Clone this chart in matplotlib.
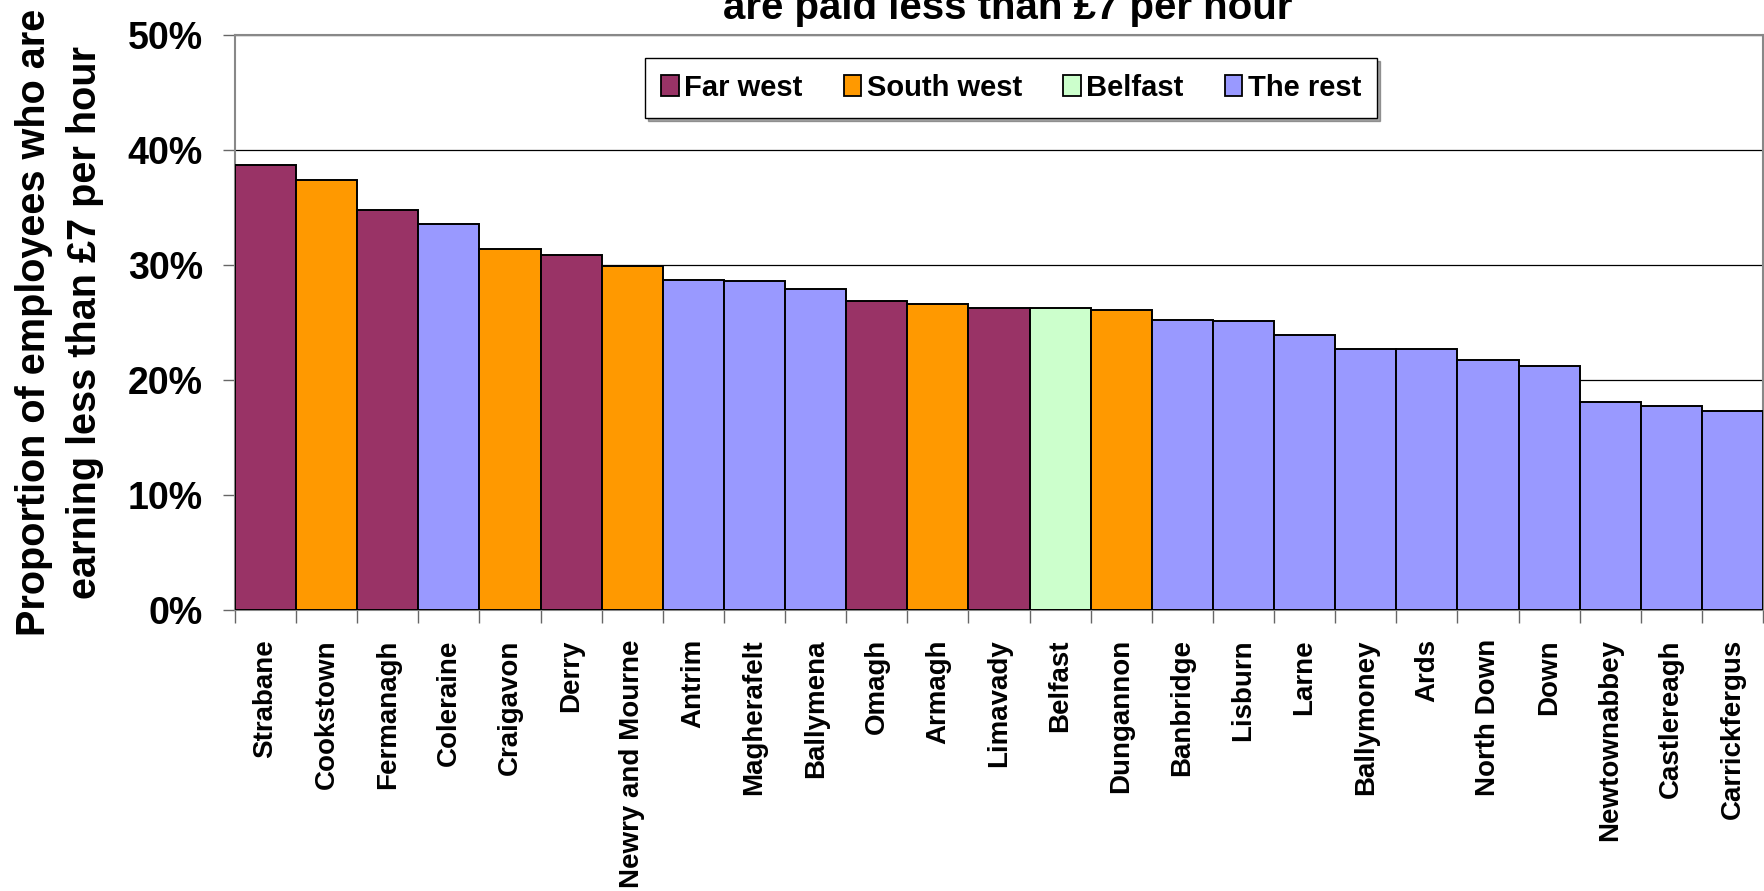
import matplotlib.pyplot as plt
from matplotlib.patches import Patch
from matplotlib.ticker import PercentFormatter

plt.rcParams['font.family'] = ['Liberation Sans', 'DejaVu Sans']
plt.rcParams['font.weight'] = 'bold'

areas = ["Strabane", "Cookstown", "Fermanagh", "Coleraine", "Craigavon", "Derry",
         "Newry and Mourne", "Antrim", "Magherafelt", "Ballymena", "Omagh", "Armagh",
         "Limavady", "Belfast", "Dungannon", "Banbridge", "Lisburn", "Larne",
         "Ballymoney", "Ards", "North Down", "Down", "Newtownabbey", "Castlereagh",
         "Carrickfergus"]
share = [38.7, 37.4, 34.8, 33.6, 31.4, 30.9, 29.9, 28.7, 28.6, 27.9, 26.9, 26.6,
         26.3, 26.3, 26.1, 25.2, 25.1, 23.9, 22.7, 22.7, 21.7, 21.2, 18.1, 17.7, 17.3]
region = ["Far west", "South west", "Far west", "The rest", "South west", "Far west",
          "South west", "The rest", "The rest", "The rest", "Far west", "South west",
          "Far west", "Belfast", "South west", "The rest", "The rest", "The rest",
          "The rest", "The rest", "The rest", "The rest", "The rest", "The rest",
          "The rest"]
groups = ["Far west", "South west", "Belfast", "The rest"]
colours = {"Far west": "#993366", "South west": "#FF9900",
           "Belfast": "#CCFFCC", "The rest": "#9999FF"}

fig = plt.figure(figsize=(17.65, 8.91), dpi=100)
ax = fig.add_axes([235 / 1765, 1 - 610 / 891, 1528 / 1765, 575 / 891])

x = list(range(len(areas)))
ax.bar(x, share, width=1.0, color=[colours[r] for r in region],
       edgecolor='black', linewidth=1.4, zorder=3)

ax.set_xlim(-0.5, len(areas) - 0.5)
ax.set_ylim(0, 50)
ax.set_yticks([0, 10, 20, 30, 40, 50])
ax.yaxis.set_major_formatter(PercentFormatter(decimals=0))
ax.tick_params(axis='y', labelsize=27, length=9, width=1, color='#666666', pad=14)
ax.set_xticks(x)
ax.set_xticklabels(areas, rotation=90, va='top', ha='center')
ax.tick_params(axis='x', which='major', labelsize=20, length=0, pad=21)
ax.set_xticks([i - 0.5 for i in range(len(areas) + 1)], minor=True)
ax.tick_params(axis='x', which='minor', length=9, width=1, color='#666666')

ax.grid(axis='y', color='black', linewidth=0.9, zorder=0)
for s in ax.spines.values():
    s.set_color('#888888')
    s.set_linewidth(1.5)

ax.set_ylabel("Proportion of employees who are\nearning less than £7 per hour",
              fontsize=28.5, fontweight='bold', labelpad=17, linespacing=1.43)

handles = [Patch(facecolor=colours[g], edgecolor='black', linewidth=1.3) for g in groups]
leg = ax.legend(handles, groups, loc='center', bbox_to_anchor=(0.508, 0.908), ncol=4,
                fontsize=21, frameon=True, fancybox=False, edgecolor='black',
                handlelength=0.6, handleheight=0.75, handletextpad=0.2,
                columnspacing=1.4, borderpad=0.55, shadow=True)
leg.get_frame().set_linewidth(1.0)

fig.text(1008 / 1765, 1 - 19 / 891, "are paid less than £7 per hour",
         ha='center', va='baseline', fontsize=29, fontweight='bold')

fig.savefig('out.png', dpi=100)
